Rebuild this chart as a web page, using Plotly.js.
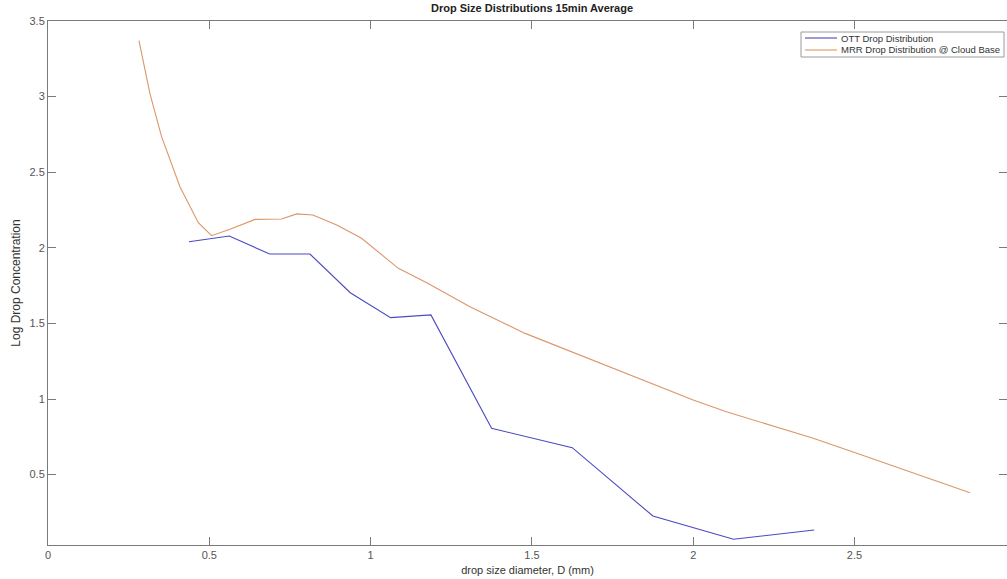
<!DOCTYPE html>
<html>
<head>
<meta charset="utf-8">
<script src="https://cdn.plot.ly/plotly-3.0.1.min.js"></script>
<style>
  html, body { margin: 0; padding: 0; background: #ffffff; }
  #chart { width: 1007px; height: 579px; }
</style>
</head>
<body>
<div id="chart"></div>
<script>
// OTT Parsivel class centres (mm) and log concentration
const ottDiameter = [0.437, 0.562, 0.687, 0.812, 0.937, 1.062, 1.187, 1.375, 1.625, 1.875, 2.125, 2.375];
const ottLogConc  = [2.040, 2.078, 1.959, 1.959, 1.703, 1.538, 1.556, 0.806, 0.678, 0.226, 0.072, 0.134];

// MRR spectrum at cloud base
const mrrDiameter = [0.282, 0.316, 0.352, 0.409, 0.466, 0.507, 0.564, 0.642, 0.724, 0.771, 0.821, 0.895,
                     0.972, 1.086, 1.174, 1.308, 1.479, 1.608, 1.866, 2.000, 2.103, 2.372, 2.507, 2.858];
const mrrLogConc  = [3.370, 3.020, 2.735, 2.404, 2.166, 2.080, 2.122, 2.188, 2.190, 2.224, 2.217, 2.151,
                     2.063, 1.864, 1.769, 1.610, 1.434, 1.324, 1.104, 0.993, 0.916, 0.740, 0.641, 0.380];

const seriesNames  = ['OTT Drop Distribution', 'MRR Drop Distribution @ Cloud Base'];
const seriesColors = ['#4a4ac0', '#dc966a'];

const xTicks = [0, 0.5, 1, 1.5, 2, 2.5];
const yTicks = [0.5, 1, 1.5, 2, 2.5, 3, 3.5];

const FONT = 'Liberation Sans, Arial, Helvetica, sans-serif';

// plot area geometry (px)
const W = 1007, H = 579;
const M = {l: 48, r: 0, t: 21, b: 34};
const PW = W - M.l - M.r, PH = H - M.t - M.b;
const px2x = p => (p - M.l) / PW;
const py2y = p => (H - M.b - p) / PH;

const traces = [
  {x: ottDiameter, y: ottLogConc, name: seriesNames[0], type: 'scatter', mode: 'lines',
   line: {color: seriesColors[0], width: 1.1}, showlegend: false},
  {x: mrrDiameter, y: mrrLogConc, name: seriesNames[1], type: 'scatter', mode: 'lines',
   line: {color: seriesColors[1], width: 1.1}, showlegend: false}
];

// legend box drawn with shapes and annotations
const legBox = {x0: 801, x1: 1004, y0: 32, y1: 57};
const legRows = [38, 50];
const shapes = [
  {type: 'rect', xref: 'paper', yref: 'paper',
   x0: px2x(legBox.x0), x1: px2x(legBox.x1), y0: py2y(legBox.y1), y1: py2y(legBox.y0),
   line: {color: '#9a9a9a', width: 1}, fillcolor: '#ffffff'}
];
const annotations = [];
seriesNames.forEach((name, i) => {
  shapes.push({type: 'line', xref: 'paper', yref: 'paper',
    x0: px2x(805), x1: px2x(837), y0: py2y(legRows[i]), y1: py2y(legRows[i]),
    line: {color: seriesColors[i], width: 1.1}});
  annotations.push({xref: 'paper', yref: 'paper', x: px2x(839), y: py2y(legRows[i]),
    xanchor: 'left', yanchor: 'middle', showarrow: false, text: name,
    font: {family: FONT, size: 9.5, color: '#333333'}});
});

const axisCommon = {
  showgrid: false, zeroline: false, showline: true, linecolor: '#7a7a7a', linewidth: 1,
  mirror: 'ticks', ticks: 'inside', ticklen: 8, tickcolor: '#7a7a7a', tickwidth: 1,
  tickfont: {family: FONT, size: 11, color: '#555555'}
};

const layout = {
  width: W, height: H,
  margin: M,
  paper_bgcolor: '#ffffff', plot_bgcolor: '#ffffff',
  title: {text: '<b>Drop Size Distributions 15min Average</b>', xref: 'paper', x: px2x(532),
          xanchor: 'center', yref: 'container', y: 1 - 8 / H, yanchor: 'middle',
          font: {family: FONT, size: 11, color: '#222222'}},
  xaxis: Object.assign({}, axisCommon, {
    range: [0, PW / 322.6], tickvals: xTicks, ticktext: xTicks.map(String),
    title: {text: 'drop size diameter, D (mm)', standoff: 6,
            font: {family: FONT, size: 11, color: '#333333'}}
  }),
  yaxis: Object.assign({}, axisCommon, {
    range: [3.5 - PH / 151.2, 3.5], tickvals: yTicks, ticktext: yTicks.map(String),
    title: {text: 'Log Drop Concentration', standoff: 6,
            font: {family: FONT, size: 12, color: '#333333'}}
  }),
  shapes: shapes,
  annotations: annotations,
  showlegend: false
};

Plotly.newPlot('chart', traces, layout, {staticPlot: true, displayModeBar: false});
</script>
</body>
</html>
